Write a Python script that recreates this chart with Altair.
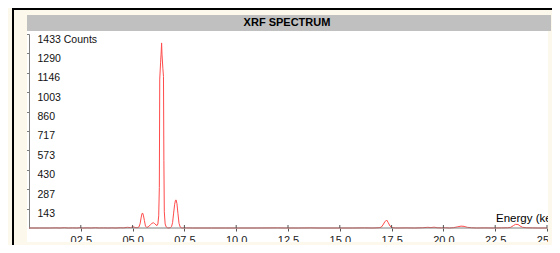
import altair as alt
import pandas as pd

# ---- data ----
energy_kev = [0.0, 0.5, 1.0, 1.3, 1.5, 1.7, 1.9, 2.1, 2.3, 2.45, 2.6, 2.8, 3.0, 3.2, 3.4, 3.6, 3.8, 4.0, 4.2, 4.4,
              4.55, 4.75, 4.9, 5.02, 5.12, 5.22,
              5.30, 5.36, 5.41, 5.45, 5.48, 5.52, 5.57, 5.62, 5.68,
              5.75, 5.85, 5.93, 6.00, 6.07, 6.13, 6.18,
              6.22, 6.26, 6.29, 6.31, 6.35, 6.38, 6.40, 6.42, 6.46, 6.49, 6.51, 6.53, 6.57, 6.62, 6.68, 6.75, 6.82,
              6.88, 6.93, 6.98, 7.03, 7.07, 7.10, 7.14, 7.19, 7.24, 7.30, 7.38,
              7.6, 7.9, 8.3, 8.8, 9.5, 10.0, 11.0, 12.0, 12.4, 13.0, 13.6, 14.0, 15.0, 15.6, 16.2, 16.6, 16.9,
              17.0, 17.08, 17.17, 17.26, 17.33, 17.42, 17.52, 17.7,
              18.2, 18.6, 19.0, 19.25, 19.4, 19.55, 19.7, 19.9, 20.1, 20.3, 20.5, 20.7, 20.85, 21.0, 21.15,
              21.35, 21.6, 22.0, 22.4, 22.8, 23.1, 23.25, 23.38, 23.48, 23.6, 23.7, 23.82, 24.0, 24.3, 24.6, 25.0]
counts = [0, 0, 0, 1, 0, 2, 0, 1, 0, 2, 0, 1, 0, 2, 0, 1, 0, 1, 0, 2,
          1, 5, 3, 9, 4, 2,
          6, 30, 75, 104, 111, 95, 55, 15, 4,
          8, 22, 34, 39, 32, 22, 18,
          30, 90, 300, 1100, 1220, 1300, 1367, 1280, 1180, 1120, 500, 120, 30, 8, 2, 0, 3,
          10, 40, 110, 175, 205, 207, 180, 105, 35, 6, 0,
          1, 0, 0, 0, 0, 0, 0, 1, 0, 0, 1, 0, 0, 0, 1, 0, 2,
          6, 22, 45, 59, 42, 15, 3, 0,
          1, 0, 2, 5, 3, 6, 2, 1, 2, 0, 3, 9, 14, 12, 5,
          2, 0, 1, 0, 1, 2, 5, 18, 27, 26, 15, 5, 2, 1, 0, 0]
x_tick_values = [2.5, 5.0, 7.5, 10.0, 12.5, 15.0, 17.5, 20.0, 22.5, 25.0]
y_tick_values = [143, 287, 430, 573, 717, 860, 1003, 1146, 1290, 1433]
title_text = "XRF SPECTRUM"
x_axis_title = "Energy (keV)"
y_unit = "Counts"

spec_df = pd.DataFrame({"energy": energy_kev, "counts": counts})
ticks_df = pd.DataFrame({"energy": x_tick_values})
one = pd.DataFrame({"k": [0]})

W, H = 518, 194
CREAM = "#fdf8ec"
GRAY_BAR = "#c0c0c0"
AXIS_GRAY = "#7f7f7f"
RED = "#ff4b4b"
FONT = "Liberation Sans"
RIGHT_EDGE = 523   # plot-coordinate right edge of the svg
BOTTOM_EDGE = 211  # plot-coordinate bottom edge of the svg


def box(x, x2, y, y2, color):
    return alt.Chart(one).mark_rect(color=color, strokeWidth=0).encode(
        x=alt.value(x), x2=alt.value(x2), y=alt.value(y), y2=alt.value(y2))


x_scale = alt.Scale(domain=[0, 25], nice=False, zero=False)
y_scale = alt.Scale(domain=[0, 1433], nice=False)

x_axis = alt.Axis(values=x_tick_values, format="04.1f", title=None, grid=False, domain=False,
                  tickSize=3, tickColor="#555555", labelPadding=3, labelFontSize=11, labelFont=FONT,
                  labelColor="#222222", labelFlush=False, labelOverlap=False, labelBaseline="top")
y_axis = alt.Axis(values=y_tick_values, format="d", title=None, grid=False,
                  labelExpr=f"datum.value == 1433 ? datum.label + ' {y_unit}' : datum.label",
                  tickSize=3, tickColor=AXIS_GRAY, domainColor=AXIS_GRAY, labelAlign="left",
                  labelPadding=-11, labelOffset=5, labelBaseline="middle", labelFontSize=10.5,
                  labelFont=FONT, labelColor="#111111", labelFlush=False, labelOverlap=False)

line = alt.Chart(spec_df).mark_line(color=RED, strokeWidth=1, interpolate="linear").encode(
    x=alt.X("energy:Q", scale=x_scale, axis=x_axis),
    y=alt.Y("counts:Q", scale=y_scale, axis=y_axis),
)

x_domain_rule = alt.Chart(one).mark_rule(color=AXIS_GRAY, strokeWidth=1).encode(
    x=alt.value(0), x2=alt.value(W), y=alt.value(H))

up_ticks = alt.Chart(ticks_df).mark_rule(color="#555555", strokeWidth=1).encode(
    x=alt.X("energy:Q", scale=x_scale, axis=x_axis), y=alt.value(H - 3), y2=alt.value(H))

title_mark = alt.Chart(one).mark_text(text=title_text, font=FONT, fontSize=11, fontWeight="bold",
                                      align="center", baseline="middle", color="black").encode(
    x=alt.value(258), y=alt.value(-11))

energy_label = alt.Chart(one).mark_text(text=x_axis_title, font=FONT, fontSize=11.5, align="left",
                                        baseline="middle", color="black").encode(
    x=alt.value(467), y=alt.value(185))

chart = alt.layer(
    line,
    x_domain_rule,
    up_ticks,
    energy_label,
    box(-21, -2, -26, BOTTOM_EDGE, CREAM),          # left strip
    box(-21, RIGHT_EDGE, -26, -3, CREAM),           # top strip
    box(519, RIGHT_EDGE, -3, BOTTOM_EDGE, CREAM),   # right strip (clips text)
    box(-21, RIGHT_EDGE, 208, BOTTOM_EDGE, CREAM),  # bottom strip (clips labels)
    box(-2, 522, -19, -3, GRAY_BAR),                # title bar
    title_mark,
    box(-17, RIGHT_EDGE, -26, -24, "black"),        # top border
    box(-17, -15, -26, BOTTOM_EDGE, "black"),       # left border
).properties(
    width=W, height=H,
    padding={"left": 21, "top": 26, "right": 5, "bottom": 17},
    autosize=alt.AutoSizeParams(type="none"),
).configure(background="white").configure_view(stroke=None)

chart.save("out.html", embed_options={"renderer": "svg", "actions": False})
